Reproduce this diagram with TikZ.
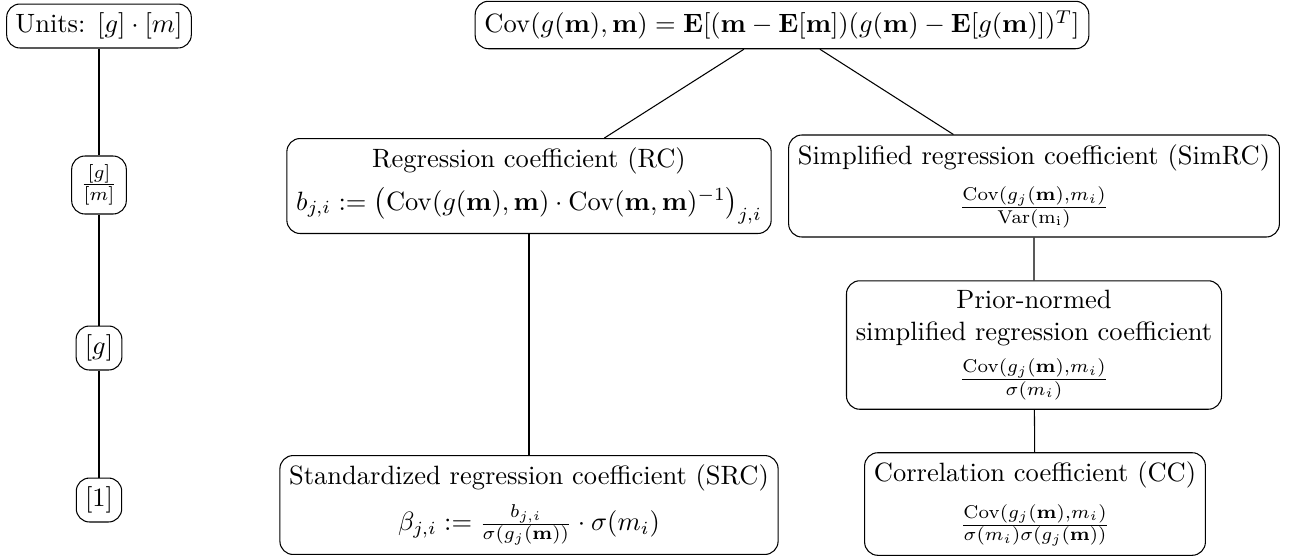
\documentclass[tikz,border=0pt]{standalone}
\usepackage{amsmath,amssymb}
\usepackage{tikz}
\usetikzlibrary{positioning, calc}

\begin{document}
\begin{tikzpicture}[x=0.01327cm, y=-0.01327cm,
    coefbox/.style={draw, rounded corners=5pt, align=center, inner sep=3.5pt},
    unitbox/.style={draw, rounded corners=5pt, inner sep=3.3pt}]
  \useasboundingbox (0,0) rectangle (1290,556);

  %% Units column on the left
  \node[unitbox] (uGM) at (99,26) {Units: $[g]\cdot[m]$};
  \node[unitbox] (uGperM) at (99,185) {$\frac{[g]}{[m]}$};
  \node[unitbox] (uG) at (99,348) {$[g]$};
  \node[unitbox] (uOne) at (99,500) {$[1]$};
  \draw (uGM) -- (uGperM) -- (uG) -- (uOne);

  %% Covariance at the top
  \node[coefbox] (cov) at (782,25)
    {$\mathrm{Cov}(g(\mathbf{m}),\mathbf{m}) = \mathbf{E}[(\mathbf{m}-\mathbf{E}[\mathbf{m}])(g(\mathbf{m})-\mathbf{E}[g(\mathbf{m})])^T]$};

  %% Left branch: RC and SRC
  \node[coefbox] (rc) at (529,186)
    {Regression coefficient (RC)\\[4pt]
     $b_{j,i} := \big(\mathrm{Cov}(g(\mathbf{m}),\mathbf{m})\cdot\mathrm{Cov}(\mathbf{m},\mathbf{m})^{-1}\big)_{j,i}$};
  \node[coefbox] (src) at (529,505)
    {Standardized regression coefficient (SRC)\\[4pt]
     $\beta_{j,i} := \frac{b_{j,i}}{\sigma(g_j(\mathbf{m}))}\cdot\sigma(m_i)$};

  %% Right branch: SimRC, prior-normed SimRC and CC
  \node[coefbox] (simrc) at (1034,186)
    {Simplified regression coefficient (SimRC)\\[5pt]
     $\frac{\mathrm{Cov}(g_j(\mathbf{m}),m_i)}{\mathrm{Var(m_i)}}$};
  \node[coefbox] (pnsimrc) at (1034,345)
    {Prior-normed\\simplified regression coefficient\\[4pt]
     $\frac{\mathrm{Cov}(g_j(\mathbf{m}),m_i)}{\sigma(m_i)}$};
  \node[coefbox] (cc) at (1035,504)
    {Correlation coefficient (CC)\\[5pt]
     $\frac{\mathrm{Cov}(g_j(\mathbf{m}),m_i)}{\sigma(m_i)\sigma(g_j(\mathbf{m}))}$};

  %% Connectors
  \draw (cov) -- (rc);
  \draw (cov) -- (simrc);
  \draw (rc) -- (src);
  \draw (simrc) -- (pnsimrc) -- (cc);

\end{tikzpicture}
\end{document}
